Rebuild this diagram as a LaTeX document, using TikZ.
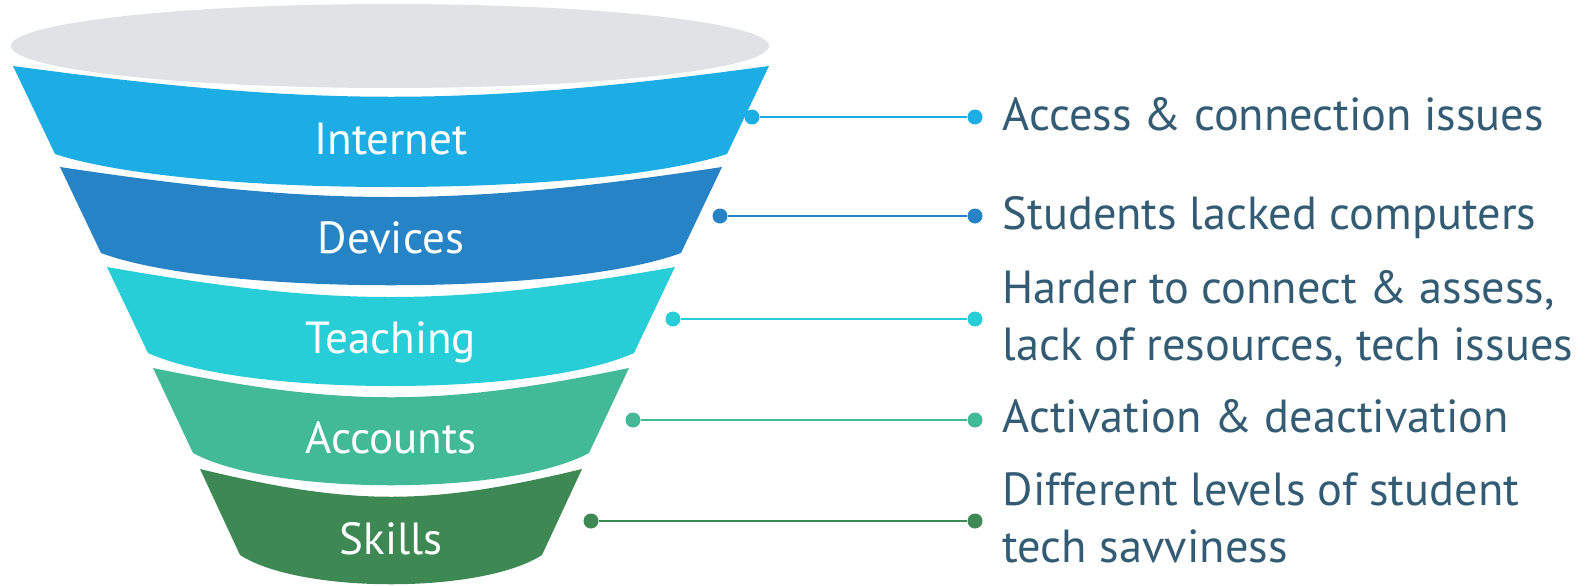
\documentclass[tikz,border=0pt]{standalone}
\usepackage{fontspec}
\setmainfont{PT Sans}
\usetikzlibrary{positioning}

\definecolor{rim}{HTML}{DFE3E5}
\definecolor{internet}{HTML}{1CADE4}
\definecolor{devices}{HTML}{2683C6}
\definecolor{teaching}{HTML}{27CED7}
\definecolor{accounts}{HTML}{42BA97}
\definecolor{skills}{HTML}{3E8853}
\definecolor{notetext}{HTML}{335B74}

\begin{document}
\begin{tikzpicture}[x=0.1mm,y=-0.1mm,
	layer/.style={text=white, anchor=base, font=\fontsize{12.8}{16.2}\selectfont},
	dot/.style={circle, fill=#1, inner sep=0pt, minimum size=1.5mm},
	link/.style={draw=#1, line width=0.7pt},
	note/.style={text=notetext, anchor=base west, align=left, inner sep=0pt, font=\fontsize{13.2}{16.2}\selectfont}]

	\useasboundingbox (0,0) rectangle (1592,585);

	% funnel
	\fill[rim] (390,46) ellipse [x radius=379, y radius=42];
	\fill[internet] (13,66) .. controls (315,107) and (467,107) .. (769,66) -- (727,154) .. controls (593,198) and (189,198) .. (55,154) -- cycle;
	\fill[devices] (60,167) .. controls (325,207) and (457,207) .. (722,167) -- (681,253) .. controls (565,296) and (217,296) .. (101,253) -- cycle;
	\fill[teaching] (107,267) .. controls (334,307) and (448,307) .. (675,267) -- (634,353) .. controls (537,397) and (245,397) .. (148,353) -- cycle;
	\fill[accounts] (153,368) .. controls (343,407) and (439,407) .. (629,368) -- (589,453) .. controls (510,496) and (272,496) .. (193,453) -- cycle;
	\fill[skills] (200,469) .. controls (353,506) and (429,506) .. (582,469) -- (542,555) .. controls (482,594) and (300,594) .. (240,555) -- cycle;

	\node[layer] (net)  at (391,154) {Internet};
	\node[layer] (dev)  at (391,253) {Devices};
	\node[layer] (tea)  at (391,353) {Teaching};
	\node[layer] (acc)  at (391,453) {Accounts};
	\node[layer] (ski)  at (391,554) {Skills};

	% connectors
	\node[dot=internet] (netL) at (752,117) {};
	\node[dot=internet] (netR) at (975,117) {};
	\node[dot=devices]  (devL) at (720,216) {};
	\node[dot=devices]  (devR) at (975,216) {};
	\node[dot=teaching] (teaL) at (673,319) {};
	\node[dot=teaching] (teaR) at (975,319) {};
	\node[dot=accounts] (accL) at (633,420) {};
	\node[dot=accounts] (accR) at (975,420) {};
	\node[dot=skills]   (skiL) at (591,521) {};
	\node[dot=skills]   (skiR) at (975,521) {};

	\path (netL) edge[link=internet] (netR)
	      (devL) edge[link=devices]  (devR)
	      (teaL) edge[link=teaching] (teaR)
	      (accL) edge[link=accounts] (accR)
	      (skiL) edge[link=skills]   (skiR);

	% notes (multi-line notes sit on their last baseline)
	\node[note] (netN) at (1002,130) {Access \& connection issues};
	\node[note] (devN) at (1002,229) {Students lacked computers};
	\node[note] (teaN) at (1002,360) {Harder to connect \& assess,\\lack of resources, tech issues};
	\node[note] (accN) at (1002,432) {Activation \& deactivation};
	\node[note] (skiN) at (1002,562) {Different levels of student\\tech savviness};
\end{tikzpicture}
\end{document}
